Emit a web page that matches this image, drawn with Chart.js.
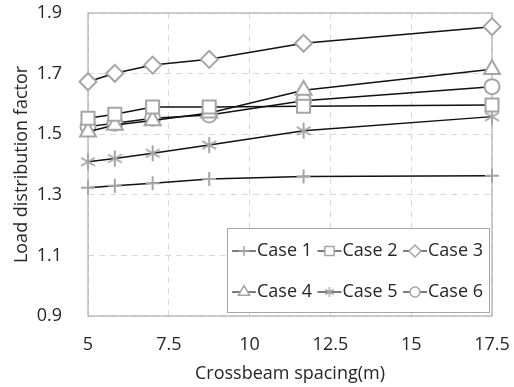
<!DOCTYPE html>
<html>
<head>
<meta charset="utf-8">
<script src="https://cdn.jsdelivr.net/npm/chart.js@4/dist/chart.umd.min.js"></script>
<style>
  html, body { margin: 0; padding: 0; background: #fff; }
  #wrap { width: 514px; height: 387px; }
</style>
</head>
<body>
<div id="wrap"><canvas id="chart" width="514" height="387"></canvas></div>
<script>
// crossbeam spacing (m)
const spacing = [5, 5.83, 7, 8.75, 11.67, 17.5];
const case1 = [1.323, 1.330, 1.338, 1.352, 1.360, 1.363];
const case2 = [1.553, 1.566, 1.590, 1.590, 1.592, 1.596];
const case3 = [1.673, 1.701, 1.728, 1.747, 1.800, 1.855];
const case4 = [1.508, 1.530, 1.545, 1.570, 1.645, 1.714];
const case5 = [1.409, 1.420, 1.437, 1.464, 1.511, 1.558];
const case6 = [1.525, 1.536, 1.553, 1.563, 1.610, 1.657];
const caseNames = ['Case 1', 'Case 2', 'Case 3', 'Case 4', 'Case 5', 'Case 6'];
const xTicks = [5, 7.5, 10, 12.5, 15, 17.5];
const yTicks = [0.9, 1.1, 1.3, 1.5, 1.7, 1.9];

const markerGray = '#a5a5a5';
const textColor = '#262626';
const fontFamily = '"Open Sans", sans-serif';

// six-spoke asterisk marker
function makeStar(size, lw) {
    const c = document.createElement('canvas');
    c.width = size; c.height = size;
    const g = c.getContext('2d');
    const r = size / 2 - 1, m = size / 2;
    g.strokeStyle = markerGray;
    g.lineWidth = lw;
    g.beginPath();
    [90, 30, 150].forEach(a => {
        const dx = Math.cos(a * Math.PI / 180) * r, dy = Math.sin(a * Math.PI / 180) * r;
        g.moveTo(m - dx, m - dy);
        g.lineTo(m + dx, m + dy);
    });
    g.stroke();
    return c;
}
const starBig = makeStar(18, 2);
const starSmall = makeStar(12, 1.5);

const styles = ['cross', 'rect', 'rectRot', 'triangle', starBig, 'circle'];
const radii = [7, 9.2, 8.5, 9.2, 8, 7.5];
const series = [case1, case2, case3, case4, case5, case6];

const datasets = series.map((vals, i) => ({
    label: caseNames[i],
    data: spacing.map((x, j) => ({x: x, y: vals[j]})),
    borderColor: '#111',
    borderWidth: 1.5,
    pointStyle: styles[i],
    pointRadius: radii[i],
    pointBorderColor: markerGray,
    pointBackgroundColor: '#fff',
    pointBorderWidth: 2,
    clip: false,
    tension: 0
}));

// no extra room for overhanging tick labels, layout padding decides the plot box
function noOverhang(s) {
    s.paddingTop = 0; s.paddingBottom = 0;
    s.paddingLeft = 0; s.paddingRight = 0;
}

const frame = {
    id: 'frame',
    beforeDatasetsDraw(chart) {
        const {ctx, chartArea: a} = chart;
        ctx.save();
        ctx.strokeStyle = '#b3b3b3';
        ctx.lineWidth = 1.3;
        ctx.strokeRect(a.left, a.top, a.right - a.left, a.bottom - a.top);
        ctx.restore();
    }
};

const legendBox = {
    id: 'legendBox',
    afterDatasetsDraw(chart) {
        const ctx = chart.ctx;
        const small = [5, 6.5, 6, 6.5, 0, 5];
        ctx.save();
        ctx.fillStyle = '#fff';
        ctx.fillRect(227.5, 228.5, 262, 84);
        ctx.strokeStyle = '#a6a6a6';
        ctx.lineWidth = 1;
        ctx.strokeRect(227.5, 228.5, 262, 84);
        ctx.font = '18px ' + fontFamily;
        ctx.textBaseline = 'middle';
        chart.data.datasets.forEach((ds, i) => {
            const x = 232 + (i % 3) * 85.5;
            const y = 251 + Math.floor(i / 3) * 41;
            ctx.strokeStyle = '#333';
            ctx.lineWidth = 1.3;
            ctx.beginPath();
            ctx.moveTo(x, y);
            ctx.lineTo(x + 24, y);
            ctx.stroke();
            ctx.strokeStyle = markerGray;
            ctx.fillStyle = '#fff';
            ctx.lineWidth = 1.5;
            Chart.helpers.drawPoint(ctx, {
                pointStyle: i === 4 ? starSmall : styles[i],
                radius: small[i], rotation: 0, borderWidth: 1.5
            }, x + 12, y);
            ctx.fillStyle = textColor;
            ctx.fillText(ds.label, x + 25, y);
        });
        ctx.restore();
    }
};

new Chart(document.getElementById('chart'), {
    type: 'line',
    data: {datasets: datasets},
    options: {
        responsive: false,
        animation: false,
        layout: {padding: {left: 0, right: 22, top: 13, bottom: 0}},
        plugins: {legend: {display: false}, tooltip: {enabled: false}},
        scales: {
            x: {
                type: 'linear',
                min: 5, max: 17.5,
                afterFit: s => { s.height = 71; noOverhang(s); },
                afterBuildTicks: s => { s.ticks = xTicks.map(v => ({value: v})); },
                ticks: {color: textColor, font: {family: fontFamily, size: 18}, padding: 18,
                        maxRotation: 0, autoSkip: false},
                grid: {color: '#d9d9d9', drawTicks: false, lineWidth: 1},
                border: {display: false, dash: [6, 5]},
                title: {display: true, text: 'Crossbeam spacing(m)', color: textColor,
                        font: {family: fontFamily, size: 18}, padding: {top: 0, bottom: 2}}
            },
            y: {
                min: 0.9, max: 1.9,
                afterFit: s => { s.width = 88; noOverhang(s); },
                afterBuildTicks: s => { s.ticks = yTicks.map(v => ({value: v})); },
                ticks: {color: textColor, font: {family: fontFamily, size: 18}, padding: 26,
                        callback: v => v.toFixed(1)},
                grid: {color: '#d9d9d9', drawTicks: false, lineWidth: 1},
                border: {display: false, dash: [6, 5]},
                title: {display: true, text: 'Load distribution factor', color: textColor,
                        font: {family: fontFamily, size: 18}, padding: {top: 11, bottom: 0}}
            }
        }
    },
    plugins: [frame, legendBox]
});
</script>
</body>
</html>
